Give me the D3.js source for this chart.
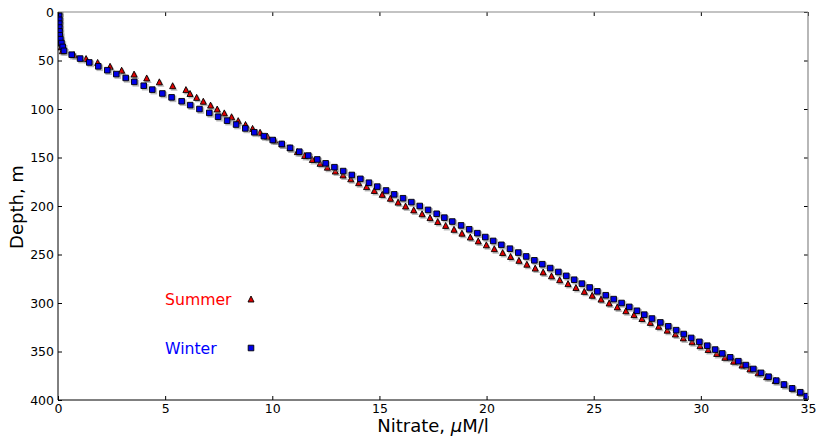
<!DOCTYPE html>
<html>
<head>
<meta charset="utf-8">
<script src="https://cdn.jsdelivr.net/npm/d3@7"></script>
<style>
  body { margin: 0; background: #fff; }
  svg { font-family: "DejaVu Sans", sans-serif; }
</style>
</head>
<body>
<div id="chart"></div>
<script>
// depth levels, m
const depths = [0, 4, 8, 12, 16, 20, 24, 28, 32, 36, 40, 44, 48, 52, 56, 60, 64, 68, 72, 76,
  80, 84, 88, 92, 96, 100, 104, 108, 112, 116, 120, 124, 128, 132, 136, 140, 144, 148, 152, 156,
  160, 164, 168, 172, 176, 180, 184, 188, 192, 196, 200, 204, 208, 212, 216, 220, 224, 228, 232, 236,
  240, 244, 248, 252, 256, 260, 264, 268, 272, 276, 280, 284, 288, 292, 296, 300, 304, 308, 312, 316,
  320, 324, 328, 332, 336, 340, 344, 348, 352, 356, 360, 364, 368, 372, 376, 380, 384, 388, 392, 396];

// nitrate, uM/l
const summer = [0.02, 0.03, 0.03, 0.04, 0.05, 0.06, 0.07, 0.09, 0.12, 0.15, 0.20, 0.75, 1.31, 1.85, 2.43, 2.97, 3.55, 4.14, 4.73, 5.35,
  5.97, 6.16, 6.47, 6.78, 7.12, 7.43, 7.76, 8.10, 8.41, 8.75, 9.08, 9.43, 9.77, 10.11, 10.45, 10.83, 11.17, 11.51, 11.87, 12.23,
  12.57, 12.94, 13.30, 13.66, 14.03, 14.40, 14.76, 15.13, 15.51, 15.87, 16.22, 16.60, 16.99, 17.36, 17.72, 18.09, 18.48, 18.85, 19.24, 19.61,
  19.99, 20.36, 20.75, 21.12, 21.51, 21.88, 22.27, 22.64, 23.03, 23.41, 23.80, 24.17, 24.56, 24.93, 25.34, 25.72, 26.10, 26.50, 26.88, 27.25,
  27.64, 28.03, 28.43, 28.81, 29.18, 29.59, 29.96, 30.34, 30.74, 31.12, 31.53, 31.92, 32.29, 32.67, 33.07, 33.47, 33.88, 34.28, 34.62, 34.94];

const winter = [0.05, 0.05, 0.06, 0.06, 0.06, 0.07, 0.08, 0.11, 0.16, 0.22, 0.28, 0.64, 1.03, 1.46, 1.88, 2.30, 2.72, 3.16, 3.56, 4.00,
  4.40, 4.87, 5.30, 5.77, 6.17, 6.60, 7.06, 7.47, 7.89, 8.31, 8.74, 9.16, 9.61, 10.02, 10.44, 10.83, 11.26, 11.68, 12.10, 12.49,
  12.90, 13.31, 13.71, 14.11, 14.51, 14.90, 15.31, 15.69, 16.10, 16.49, 16.88, 17.27, 17.67, 18.03, 18.40, 18.81, 19.19, 19.57, 19.94, 20.31,
  20.69, 21.09, 21.48, 21.85, 22.23, 22.60, 22.97, 23.35, 23.72, 24.09, 24.45, 24.81, 25.17, 25.56, 25.93, 26.30, 26.66, 27.02, 27.36, 27.72,
  28.11, 28.48, 28.85, 29.20, 29.55, 29.93, 30.30, 30.67, 31.00, 31.37, 31.75, 32.10, 32.45, 32.81, 33.16, 33.52, 33.88, 34.26, 34.64, 34.94];

const xTicks = [0, 5, 10, 15, 20, 25, 30, 35];
const yTicks = [0, 50, 100, 150, 200, 250, 300, 350, 400];

const width = 816, height = 436;
const plotLeft = 58, plotRight = 808, plotTop = 12, plotBottom = 400;

const svg = d3.select("#chart").append("svg")
    .attr("width", width)
    .attr("height", height);

const x = d3.scaleLinear().domain([0, 35]).range([plotLeft, plotRight]);
const y = d3.scaleLinear().domain([0, 400]).range([plotTop, plotBottom]);

// marker shapes, centred on their bounding box like matplotlib
function tri(cx, cy, s) {
    return `M${cx},${cy - s}L${cx + s},${cy + s}L${cx - s},${cy + s}Z`;
}
function sq(cx, cy, s) {
    return `M${cx - s},${cy - s}h${2 * s}v${2 * s}h${-2 * s}Z`;
}

svg.append("defs").append("clipPath").attr("id", "clip")
    .append("rect")
    .attr("x", plotLeft).attr("y", plotTop)
    .attr("width", plotRight - plotLeft).attr("height", plotBottom - plotTop);

const plot = svg.append("g").attr("clip-path", "url(#clip)");

const series = [
    {name: "Summer", values: summer, shape: tri, size: 3, fill: "#e00000", color: "#ff0000"},
    {name: "Winter", values: winter, shape: sq, size: 2.8, fill: "#0000e8", color: "#0000ff"}
];

series.forEach(s => {
    const pts = depths.map((d, i) => ({d: d, v: s.values[i]}));
    // shadow
    plot.append("g").selectAll("path")
        .data(pts)
        .enter()
        .append("path")
        .attr("d", p => s.shape(x(p.v) + 1.5, y(p.d) + 1.5, s.size + 0.5))
        .attr("fill", "#777")
        .attr("opacity", 0.5);
    plot.append("g").selectAll("path")
        .data(pts)
        .enter()
        .append("path")
        .attr("d", p => s.shape(x(p.v), y(p.d), s.size))
        .attr("fill", s.fill)
        .attr("stroke", "#000")
        .attr("stroke-width", 0.9);
});

// axes, ticks pointing inward
const fmt = d3.format("d");
const xAxis = svg.append("g")
    .attr("transform", `translate(0,${plotBottom})`)
    .call(d3.axisBottom(x).tickValues(xTicks).tickFormat(fmt).tickSize(-4).tickPadding(4));
const yAxis = svg.append("g")
    .attr("transform", `translate(${plotLeft},0)`)
    .call(d3.axisLeft(y).tickValues(yTicks).tickFormat(fmt).tickSize(-4).tickPadding(4));
const topAxis = svg.append("g")
    .attr("transform", `translate(0,${plotTop})`)
    .call(d3.axisTop(x).tickValues(xTicks).tickFormat("").tickSize(-4));
const rightAxis = svg.append("g")
    .attr("transform", `translate(${plotRight},0)`)
    .call(d3.axisRight(y).tickValues(yTicks).tickFormat("").tickSize(-4));

[xAxis, yAxis, topAxis, rightAxis].forEach(a => {
    a.select(".domain").remove();
    a.selectAll("line").attr("stroke", "#000");
    a.selectAll("text")
        .attr("fill", "#000")
        .style("font-size", "12.5px")
        .style("font-family", "DejaVu Sans");
});

// spines
svg.append("line").attr("x1", plotLeft).attr("x2", plotRight).attr("y1", plotTop).attr("y2", plotTop)
    .attr("stroke", "#888").attr("stroke-width", 1.2);
svg.append("line").attr("x1", plotRight).attr("x2", plotRight).attr("y1", plotTop).attr("y2", plotBottom)
    .attr("stroke", "#888").attr("stroke-width", 1.2);
svg.append("line").attr("x1", plotLeft).attr("x2", plotLeft).attr("y1", plotTop).attr("y2", plotBottom)
    .attr("stroke", "#000").attr("stroke-width", 1);
svg.append("line").attr("x1", plotLeft).attr("x2", plotRight).attr("y1", plotBottom).attr("y2", plotBottom)
    .attr("stroke", "#000").attr("stroke-width", 1);

// axis labels
const xl = svg.append("text")
    .attr("x", 433)
    .attr("y", 432)
    .attr("text-anchor", "middle")
    .style("font-size", "18px")
    .attr("fill", "#000");
xl.append("tspan").text("Nitrate, ");
xl.append("tspan").style("font-style", "italic").text("\u03bc");
xl.append("tspan").text("M/l");

svg.append("text")
    .attr("transform", "translate(23,207) rotate(-90)")
    .attr("text-anchor", "middle")
    .style("font-size", "18px")
    .attr("fill", "#000")
    .text("Depth, m");

// legend
const legendY = [299, 348];
series.forEach((s, i) => {
    svg.append("text")
        .attr("x", 165)
        .attr("y", legendY[i] + 6)
        .style("font-size", "15.7px")
        .attr("fill", s.color)
        .text(s.name);
    svg.append("path")
        .attr("d", s.shape(251, legendY[i], s.size))
        .attr("fill", s.fill)
        .attr("stroke", "#000")
        .attr("stroke-width", 0.9);
});
</script>
</body>
</html>
